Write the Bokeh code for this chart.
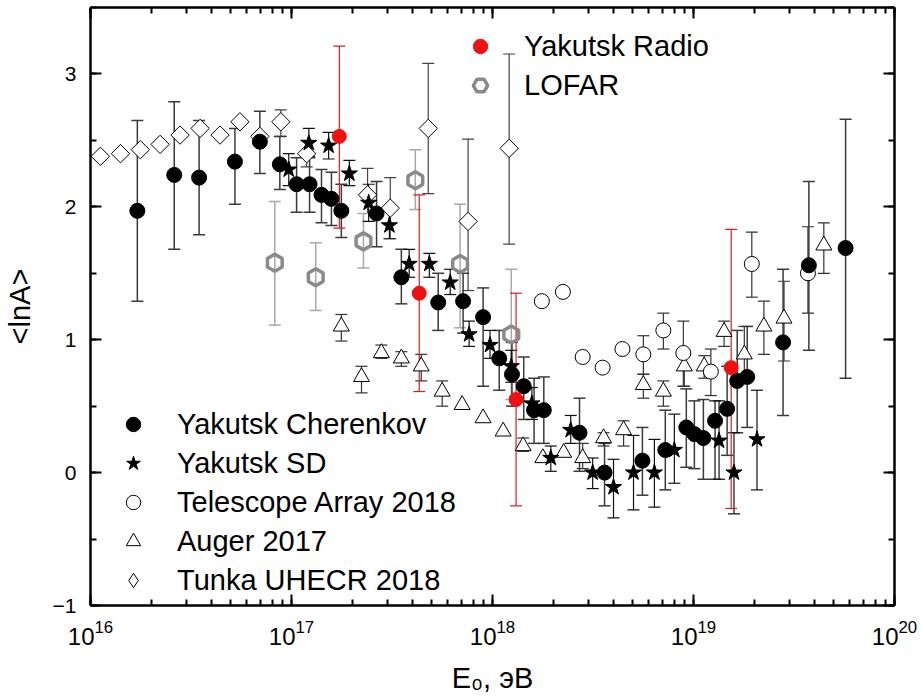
import math
from bokeh.plotting import figure
from bokeh.models import (ColumnDataSource, Whisker, TeeHead, Legend, LegendItem,
                          LogAxis, LinearAxis, SingleIntervalTicker, LogTicker, Range1d,
                          CustomJSTickFormatter)
from bokeh.embed import file_html
from bokeh.resources import INLINE

FONT = "Liberation Sans"

# ---------------- data ----------------
# Yakutsk Cherenkov
ch_E  = [1.71e16, 2.61e16, 3.47e16, 5.23e16, 6.96e16, 8.75e16, 1.06e17, 1.23e17, 1.41e17, 1.58e17,
         1.77e17, 2.65e17, 3.52e17, 5.37e17, 7.14e17, 8.98e17, 1.08e18, 1.25e18, 1.43e18, 1.61e18,
         1.80e18, 2.71e18, 3.61e18, 5.57e18, 7.24e18, 9.21e18, 1.01e19, 1.12e19, 1.28e19, 1.47e19,
         1.65e19, 1.85e19, 2.79e19, 3.75e19, 5.71e19]
ch_y  = [1.97, 2.24, 2.22, 2.34, 2.49, 2.32, 2.17, 2.17, 2.09, 2.06,
         1.97, 1.95, 1.47, 1.28, 1.29, 1.17, 0.86, 0.74, 0.65, 0.47,
         0.47, 0.30, 0.00, 0.09, 0.17, 0.34, 0.29, 0.26, 0.39, 0.48,
         0.69, 0.72, 0.98, 1.56, 1.69]
ch_lo = [1.29, 1.68, 1.79, 2.02, 2.25, 2.13, 1.96, 1.96, 1.88, 1.86,
         1.77, 1.70, 1.27, 1.07, 1.05, 0.65, 0.62, 0.50, 0.40, 0.22,
         0.22, 0.01, -0.25, -0.17, -0.13, 0.04, 0.03, -0.05, -0.05, 0.13,
         0.30, 0.34, 0.43, 0.92, 0.71]
ch_hi = [2.65, 2.79, 2.65, 2.59, 2.72, 2.53, 2.37, 2.37, 2.28, 2.26,
         2.17, 2.19, 1.68, 1.50, 1.50, 1.39, 1.07, 0.98, 0.87, 0.71,
         0.72, 0.56, 0.22, 0.34, 0.47, 0.63, 0.54, 0.55, 0.54, 0.80,
         1.07, 1.10, 1.53, 2.19, 2.66]

# Yakutsk SD
sd_E  = [9.69e16, 1.22e17, 1.53e17, 1.94e17, 2.42e17, 3.07e17, 3.85e17, 4.85e17, 6.16e17, 7.65e17,
         9.72e17, 1.24e18, 1.57e18, 1.95e18, 2.45e18, 3.15e18, 4.00e18, 5.03e18, 6.39e18, 8.03e18,
         1.34e19, 1.59e19, 2.07e19]
sd_y  = [2.28, 2.48, 2.46, 2.25, 2.03, 1.86, 1.57, 1.57, 1.43, 1.04,
         0.96, 0.80, 0.52, 0.11, 0.32, 0.00, -0.11, 0.00, 0.00, 0.17,
         0.24, 0.00, 0.25]
sd_lo = [2.16, 2.38, 2.36, 2.16, 1.89, 1.76, 1.47, 1.47, 1.34, 0.95,
         0.86, 0.68, 0.40, 0.01, 0.22, -0.12, -0.34, -0.28, -0.26, -0.08,
         -0.05, -0.31, -0.13]
sd_hi = [2.40, 2.59, 2.56, 2.35, 2.17, 1.98, 1.68, 1.65, 1.53, 1.14,
         1.07, 0.92, 0.64, 0.20, 0.43, 0.11, 0.10, 0.28, 0.25, 0.44,
         0.54, 0.30, 0.62]

# Telescope Array 2018
ta_E  = [1.76e18, 2.24e18, 2.81e18, 3.53e18, 4.43e18, 5.63e18, 7.08e18, 8.90e18, 1.22e19, 1.95e19, 3.71e19]
ta_y  = [1.29, 1.36, 0.87, 0.79, 0.93, 0.89, 1.07, 0.90, 0.76, 1.57, 1.50]
ta_lo = [1.29, 1.36, 0.87, 0.79, 0.93, 0.74, 0.93, 0.65, 0.58, 1.32, 1.20]
ta_hi = [1.29, 1.36, 0.87, 0.79, 0.93, 1.03, 1.20, 1.14, 0.93, 1.81, 1.85]

# Auger 2017
au_E  = [1.77e17, 2.23e17, 2.80e17, 3.52e17, 4.42e17, 5.62e17, 7.06e17, 8.98e17, 1.13e18, 1.42e18,
         1.78e18, 2.26e18, 2.81e18, 3.57e18, 4.49e18, 5.63e18, 7.08e18, 9.00e18, 1.13e19, 1.42e19,
         1.79e19, 2.24e19, 2.82e19, 4.45e19]
au_y  = [1.10, 0.72, 0.90, 0.86, 0.80, 0.61, 0.51, 0.41, 0.31, 0.20,
         0.11, 0.15, 0.11, 0.26, 0.32, 0.66, 0.61, 0.80, 0.80, 1.06,
         0.89, 1.10, 1.16, 1.71]
au_lo = [0.99, 0.60, 0.86, 0.80, 0.69, 0.50, 0.51, 0.41, 0.31, 0.16,
         0.11, 0.15, 0.03, 0.20, 0.20, 0.56, 0.50, 0.65, 0.71, 0.95,
         0.70, 0.89, 0.84, 1.50]
au_hi = [1.19, 0.80, 0.96, 0.91, 0.89, 0.69, 0.51, 0.41, 0.31, 0.26,
         0.11, 0.15, 0.22, 0.30, 0.39, 0.74, 0.69, 0.88, 0.88, 1.14,
         1.10, 1.29, 1.44, 1.88]

# Tunka UHECR 2018
tu_E  = [1.12e16, 1.41e16, 1.77e16, 2.22e16, 2.79e16, 3.51e16, 4.41e16, 5.54e16, 6.96e16, 8.85e16,
         1.19e17, 2.39e17, 3.10e17, 4.79e17, 7.56e17, 1.21e18]
tu_y  = [2.38, 2.40, 2.43, 2.47, 2.54, 2.59, 2.54, 2.64, 2.53, 2.64,
         2.40, 2.09, 1.99, 2.59, 1.89, 2.44]
tu_lo = [2.38, 2.40, 2.43, 2.47, 2.54, 2.59, 2.54, 2.64, 2.53, 2.53,
         2.30, 1.95, 1.76, 2.10, 1.37, 1.72]
tu_hi = [2.38, 2.40, 2.43, 2.47, 2.54, 2.59, 2.54, 2.64, 2.53, 2.73,
         2.50, 2.29, 2.22, 3.08, 2.51, 3.15]

# LOFAR
lo_E  = [8.26e16, 1.32e17, 2.28e17, 4.13e17, 6.90e17, 1.24e18]
lo_y  = [1.58, 1.47, 1.74, 2.20, 1.57, 1.04]
lo_lo = [1.11, 1.22, 1.54, 1.98, 1.09, 0.55]
lo_hi = [2.04, 1.73, 1.95, 2.43, 2.02, 1.53]

# Yakutsk Radio
ra_E  = [1.73e17, 4.32e17, 1.31e18, 1.54e19]
ra_y  = [2.53, 1.35, 0.55, 0.79]
ra_lo = [1.84, 0.61, -0.25, -0.27]
ra_hi = [3.21, 2.09, 1.35, 1.83]

# ---------------- figure ----------------
p = figure(width=922, height=698, x_axis_type="log",
           x_range=Range1d(1e16, 1e20), y_range=Range1d(-1, 3.5),
           output_backend="svg", toolbar_location=None,
           min_border_left=87, min_border_right=28, min_border_top=7, min_border_bottom=93)
p.xgrid.visible = False
p.ygrid.visible = False
p.outline_line_color = None
p.background_fill_color = "white"


def style_axis(ax):
    ax.axis_line_width = 2.5
    ax.axis_line_color = "black"
    ax.major_tick_in = 11
    ax.major_tick_out = 0
    ax.minor_tick_in = 6
    ax.minor_tick_out = 0
    ax.major_tick_line_width = 2
    ax.minor_tick_line_width = 2
    ax.major_tick_line_color = "black"
    ax.minor_tick_line_color = "black"
    ax.major_label_text_font = FONT
    ax.axis_label_text_font = FONT
    ax.axis_label_text_font_style = "normal"
    ax.axis_label_text_color = "black"
    ax.major_label_text_color = "black"


xt = LogTicker(desired_num_ticks=5, num_minor_ticks=10)
yt = SingleIntervalTicker(interval=1, num_minor_ticks=2)

xax = p.below[0]
yax = p.left[0]
xax.ticker = xt
yax.ticker = yt
style_axis(xax)
style_axis(yax)
xax.major_label_text_font_size = "24px"
yax.major_label_text_font_size = "21px"
xax.major_label_standoff = 14
yax.major_label_standoff = 14
xax.axis_label = "E\u2080, эВ"
yax.axis_label = "<lnA>"
xax.axis_label_text_font_size = "29px"
yax.axis_label_text_font_size = "29px"
xax.axis_label_standoff = 14
yax.axis_label_standoff = 14

top = LogAxis(ticker=xt, formatter=CustomJSTickFormatter(code="return ''"),
              major_label_text_font_size="1px", major_label_standoff=0)
right = LinearAxis(ticker=yt, formatter=CustomJSTickFormatter(code="return ''"),
                   major_label_text_font_size="1px", major_label_standoff=0)
style_axis(top)
style_axis(right)
p.add_layout(top, "above")
p.add_layout(right, "right")


def add_err(E, lo, hi, color, width=1.2, head=12):
    idx = [i for i in range(len(E)) if hi[i] > lo[i]]
    src = ColumnDataSource(dict(base=[E[i] for i in idx],
                                lower=[lo[i] for i in idx],
                                upper=[hi[i] for i in idx]))
    w = Whisker(source=src, base="base", lower="lower", upper="upper", dimension="height",
                line_color=color, line_width=width, level="underlay",
                upper_head=TeeHead(size=head, line_color=color, line_width=width),
                lower_head=TeeHead(size=head, line_color=color, line_width=width))
    p.add_layout(w)


add_err(tu_E, tu_lo, tu_hi, "#444444")
add_err(au_E, au_lo, au_hi, "#333333")
add_err(ta_E, ta_lo, ta_hi, "#333333")
add_err(lo_E, lo_lo, lo_hi, "#a8a8a8", width=1.5)
add_err(ch_E, ch_lo, ch_hi, "#3a3a3a", width=1.5)
add_err(sd_E, sd_lo, sd_hi, "#111111")
add_err(ra_E, ra_lo, ra_hi, "#d42020", width=1.2)

r_tu = p.scatter(tu_E, tu_y, marker="square", angle=math.pi / 4, size=13,
                 fill_color="white", line_color="black", line_width=1)
r_au = p.scatter(au_E, au_y, marker="triangle", size=16,
                 fill_color="white", line_color="black", line_width=1)
r_ta = p.scatter(ta_E, ta_y, marker="circle", size=15,
                 fill_color="white", line_color="black", line_width=1)
r_lo = p.scatter(lo_E, lo_y, marker="hex", angle=math.pi / 2, size=17,
                 fill_color=None, line_color="#8a8a8a", line_width=3.5)
r_ch = p.scatter(ch_E, ch_y, marker="circle", size=15,
                 fill_color="black", line_color="black")
r_sd = p.scatter(sd_E, sd_y, marker="star", size=17,
                 fill_color="black", line_color="black")
r_ra = p.scatter(ra_E, ra_y, marker="circle", size=14,
                 fill_color="#ee1111", line_color="#ee1111")

# legend-only glyph for Tunka (legend glyphs ignore marker angle)
r_tu_leg = p.scatter(tu_E, tu_y, marker="diamond", size=18, visible=False,
                     fill_color="white", line_color="black", line_width=1)


def make_legend(items, loc, gw=36):
    lg = Legend(items=items, location=loc,
                label_text_font=FONT, label_text_font_size="29px", label_text_color="black",
                glyph_width=gw, glyph_height=36, label_standoff=26, spacing=3,
                padding=0, margin=0, border_line_color=None, background_fill_alpha=0)
    p.add_layout(lg, "center")


make_legend([LegendItem(label="Yakutsk Cherenkov", renderers=[r_ch]),
             LegendItem(label="Yakutsk SD", renderers=[r_sd]),
             LegendItem(label="Telescope Array 2018", renderers=[r_ta]),
             LegendItem(label="Auger 2017", renderers=[r_au]),
             LegendItem(label="Tunka UHECR 2018", renderers=[r_tu_leg])], (25, 7))
make_legend([LegendItem(label="Yakutsk Radio", renderers=[r_ra]),
             LegendItem(label="LOFAR", renderers=[r_lo])], (372, 502))

open("out.html", "w").write(file_html(p, INLINE))
